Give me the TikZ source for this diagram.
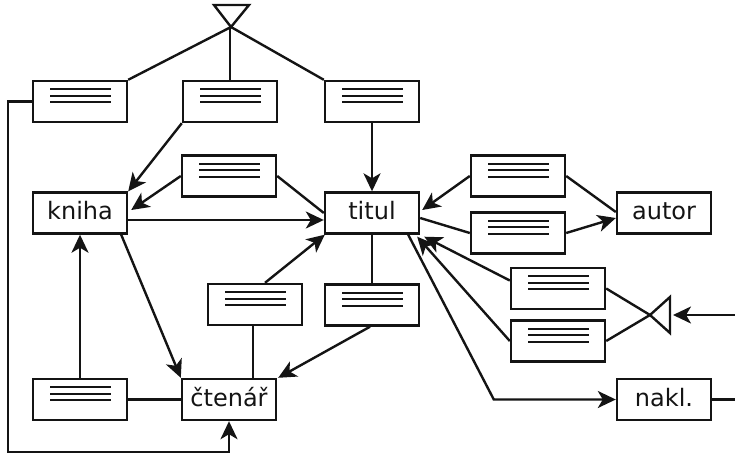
\documentclass[tikz,border=0pt]{standalone}
\usepackage{fontspec}
\setmainfont{DejaVu Sans}
\usetikzlibrary{arrows.meta}
\definecolor{ink}{RGB}{20,20,20}
\begin{document}
\begin{tikzpicture}[x=1pt,y=-1pt,
  line width=2.4pt, color=ink,
  ent/.style={draw, line width=2.4pt, minimum width=94pt, minimum height=41pt, inner sep=0pt,
    font=\fontsize{24}{28}\selectfont, text height=18pt, text depth=5pt},
  rel/.style={draw, line width=2.4pt, minimum width=94pt, minimum height=41pt, inner sep=0pt,
    path picture={\foreach \dy in {12.5,6,-0.5}
      \draw[line width=2pt] ([xshift=-30pt,yshift=\dy pt]path picture bounding box.center) -- ++(61pt,0pt);}},
  arr/.style={-{Stealth[length=18pt,width=17pt,inset=5pt]}},
  ln/.style={line width=2.4pt}
]
\useasboundingbox (0,0) rectangle (735,455);

% entity nodes
\node[ent] (kniha) at (80,213) {kniha};
\node[ent] (titul) at (372,213) {titul};
\node[ent] (autor) at (664,213) {autor};
\node[ent] (ctenar) at (229,399.5) {čtenář};
\node[ent] (nakl) at (664,399.5) {nakl.};

% relationship boxes
\node[rel] (A) at (80,101.5) {};
\node[rel] (B) at (230,101.5) {};
\node[rel] (C) at (372,101.5) {};
\node[rel] (D) at (229,176) {};
\node[rel] (E) at (518,176) {};
\node[rel] (F) at (518,233) {};
\node[rel] (G) at (558,288.5) {};
\node[rel] (H) at (558,341) {};
\node[rel] (I) at (255,304.5) {};
\node[rel] (J) at (372,305) {};
\node[rel] (K) at (80,399.5) {};

% top triangle
\coordinate (tapex) at (231,27);
\draw[ln] (tapex) -- ++(-17,-22) -- ++(35,0) -- cycle;
\draw[ln] (A.north east) -- (tapex);
\draw[ln] (B.north) -- (B.north |- tapex);
\draw[ln] (C.north west) -- (tapex);

% right triangle
\coordinate (rapex) at (650,315);
\draw[ln] (rapex) -- (670,297) -- (670,333) -- cycle;
\draw[ln] (G.east) -- (rapex);
\draw[ln] (H.east) -- (rapex);
\coordinate (redge1) at (735,315);
\draw[ln,arr] (redge1) -- (673,315);

% connectors
\draw[ln,arr] (A.west) -- ++(-24pt,0pt) |- ([yshift=-31pt]ctenar.south) -- (ctenar.south);
\draw[ln,arr] (B.south west) -- (kniha.north east);
\draw[ln,arr] (C.south) -- (titul.north);
\draw[ln,arr] (D.west) -- ([xshift=3pt,yshift=3pt]kniha.east);
\draw[ln] (D.east) -- (titul.west);
\draw[ln,arr] ([yshift=-7pt]kniha.east) -- ([yshift=-7pt]titul.west);
\draw[ln,arr] ([xshift=-7pt]kniha.south east) -- (ctenar.north west);
\draw[ln,arr] (K.north) -- (kniha.south);
\draw[ln] (K.east) -- (ctenar.west);
\draw[ln] ([xshift=-2pt]I.south) -- ([xshift=-2pt]I.south |- ctenar.north);
\draw[ln,arr] ([xshift=10pt]I.north) -- ([xshift=1pt]titul.south west);
\draw[ln] (J.north) -- (titul.north |- titul.south);
\draw[ln,arr] ([xshift=-2pt]J.south) -- ([xshift=1pt]ctenar.north east);
\draw[ln,arr] (E.west) -- ([xshift=2pt,yshift=3pt]titul.east);
\draw[ln] (E.east) -- ([yshift=1pt]autor.west);
\draw[ln] ([yshift=-5pt]titul.east) -- (F.west);
\draw[ln,arr] (F.east) -- ([yshift=-5pt]autor.west);
\draw[ln,arr] ([yshift=8pt]G.west) -- ([xshift=4pt,yshift=-2pt]titul.south east);
\draw[ln,arr] (H.west) -- ([xshift=-3pt,yshift=-2pt]titul.south east);
\draw[ln,arr] ([xshift=-12pt]titul.south east) -- ([xshift=-122pt]nakl.west) -- (nakl.west);
\coordinate (redge2) at (735,0);
\draw[ln] (nakl.east) -- (nakl.east -| redge2);
\end{tikzpicture}
\end{document}
